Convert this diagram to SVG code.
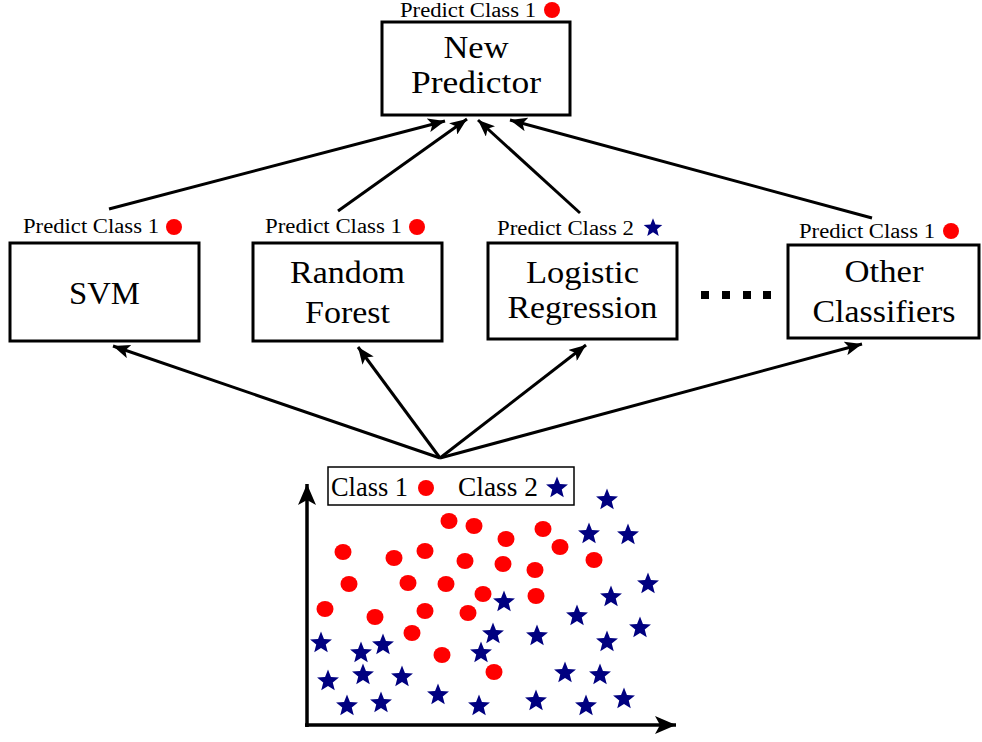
<svg xmlns="http://www.w3.org/2000/svg" xmlns:xlink="http://www.w3.org/1999/xlink" width="982" height="742" viewBox="0 0 982 742">
<defs>
<style>
.box{fill:#fff;stroke:#000;stroke-width:3}
.lbl{font-family:"Liberation Serif","Times New Roman",serif;font-size:20px;fill:#000}
.big{font-family:"Liberation Serif","Times New Roman",serif;font-size:32px;fill:#000;text-anchor:middle}
.leg{font-family:"Liberation Serif","Times New Roman",serif;font-size:27px;fill:#000}
.edge{stroke:#000;stroke-width:3;fill:none;marker-end:url(#ah)}
.axis{stroke:#000;stroke-width:3.5;fill:none;marker-end:url(#axh)}
.c1{fill:#ff0000}
.c2{fill:#000080}
</style>
<marker id="ah" markerUnits="userSpaceOnUse" markerWidth="18" markerHeight="14" refX="17" refY="7" orient="auto">
<path d="M0,0 L17,7 L0,14 L4,7 Z" fill="#000"/>
</marker>
<marker id="axh" markerUnits="userSpaceOnUse" markerWidth="22" markerHeight="18" refX="21" refY="9" orient="auto">
<path d="M0,0 L21,9 L0,18 L5,9 Z" fill="#000"/>
</marker>
<path id="star" d="M0,-11.5 L2.94,-4.05 L10.94,-3.55 L4.76,1.55 L6.76,9.3 L0,5 L-6.76,9.3 L-4.76,1.55 L-10.94,-3.55 L-2.94,-4.05 Z"/>
</defs>
<rect width="982" height="742" fill="#fff"/>

<g id="connectors">
<line class="edge" x1="109" y1="209" x2="445" y2="121"/>
<line class="edge" x1="338" y1="211" x2="467" y2="119"/>
<line class="edge" x1="580" y1="213" x2="478" y2="120"/>
<line class="edge" x1="872" y1="218" x2="510" y2="120"/>
<line class="edge" x1="440" y1="458" x2="113" y2="346"/>
<line class="edge" x1="440" y1="458" x2="358" y2="347"/>
<line class="edge" x1="440" y1="458" x2="586" y2="345"/>
<line class="edge" x1="440" y1="458" x2="862" y2="344"/>
</g>

<g id="new-predictor">
<text class="lbl" x="400" y="17" textLength="136" lengthAdjust="spacingAndGlyphs">Predict Class 1</text>
<circle class="c1" cx="552" cy="10" r="8"/>
<rect class="box" x="382" y="22" width="188" height="93"/>
<text class="big" x="476" y="58" textLength="65" lengthAdjust="spacingAndGlyphs">New</text>
<text class="big" x="476" y="93" textLength="130" lengthAdjust="spacingAndGlyphs">Predictor</text>
</g>

<g id="svm">
<text class="lbl" x="23" y="233" textLength="136" lengthAdjust="spacingAndGlyphs">Predict Class 1</text>
<circle class="c1" cx="174" cy="227" r="8"/>
<rect class="box" x="10" y="243" width="189" height="98"/>
<text class="big" x="104.5" y="304" textLength="71" lengthAdjust="spacingAndGlyphs">SVM</text>
</g>

<g id="random-forest">
<text class="lbl" x="265" y="233" textLength="137" lengthAdjust="spacingAndGlyphs">Predict Class 1</text>
<circle class="c1" cx="417" cy="227" r="8"/>
<rect class="box" x="253" y="243" width="189" height="98"/>
<text class="big" x="347.5" y="283" textLength="115" lengthAdjust="spacingAndGlyphs">Random</text>
<text class="big" x="347.5" y="323" textLength="85" lengthAdjust="spacingAndGlyphs">Forest</text>
</g>

<g id="logistic-regression">
<text class="lbl" x="497" y="235" textLength="137" lengthAdjust="spacingAndGlyphs">Predict Class 2</text>
<use xlink:href="#star" href="#star" class="c2" transform="translate(653,228) scale(0.85)"/>
<rect class="box" x="488" y="243" width="189" height="96"/>
<text class="big" x="582.5" y="283" textLength="113" lengthAdjust="spacingAndGlyphs">Logistic</text>
<text class="big" x="582.5" y="318" textLength="150" lengthAdjust="spacingAndGlyphs">Regression</text>
</g>

<g id="ellipsis">
<rect x="701" y="291" width="8" height="8" fill="#000"/>
<rect x="722" y="291" width="8" height="8" fill="#000"/>
<rect x="743" y="291" width="8" height="8" fill="#000"/>
<rect x="763" y="291" width="8" height="8" fill="#000"/>
</g>

<g id="other-classifiers">
<text class="lbl" x="799" y="238" textLength="136" lengthAdjust="spacingAndGlyphs">Predict Class 1</text>
<circle class="c1" cx="951" cy="231" r="8"/>
<rect class="box" x="788" y="245" width="191" height="93"/>
<text class="big" x="884" y="282" textLength="79" lengthAdjust="spacingAndGlyphs">Other</text>
<text class="big" x="884" y="322" textLength="143" lengthAdjust="spacingAndGlyphs">Classifiers</text>
</g>

<g id="dataset">
<line class="axis" x1="307" y1="727" x2="307" y2="484"/>
<line class="axis" x1="305" y1="725" x2="676" y2="725"/>
<rect x="328" y="467" width="246" height="38" fill="#fff" stroke="#000" stroke-width="1.5"/>
<text class="leg" x="331" y="496" textLength="77" lengthAdjust="spacingAndGlyphs">Class 1</text>
<circle class="c1" cx="426" cy="488" r="8"/>
<text class="leg" x="458" y="496" textLength="80" lengthAdjust="spacingAndGlyphs">Class 2</text>
<use xlink:href="#star" href="#star" class="c2" transform="translate(557,488)"/>

<g class="c1">
<ellipse cx="449" cy="521" rx="8.5" ry="8"/>
<ellipse cx="474" cy="526" rx="8.5" ry="8"/>
<ellipse cx="506" cy="539" rx="8.5" ry="8"/>
<ellipse cx="543" cy="529" rx="8.5" ry="8"/>
<ellipse cx="560" cy="547" rx="8.5" ry="8"/>
<ellipse cx="594" cy="560" rx="8.5" ry="8"/>
<ellipse cx="343" cy="552" rx="8.5" ry="8"/>
<ellipse cx="394" cy="558" rx="8.5" ry="8"/>
<ellipse cx="425" cy="551" rx="8.5" ry="8"/>
<ellipse cx="465" cy="561" rx="8.5" ry="8"/>
<ellipse cx="503" cy="564" rx="8.5" ry="8"/>
<ellipse cx="535" cy="570" rx="8.5" ry="8"/>
<ellipse cx="349" cy="584" rx="8.5" ry="8"/>
<ellipse cx="408" cy="583" rx="8.5" ry="8"/>
<ellipse cx="446" cy="584" rx="8.5" ry="8"/>
<ellipse cx="483" cy="594" rx="8.5" ry="8"/>
<ellipse cx="536" cy="596" rx="8.5" ry="8"/>
<ellipse cx="325" cy="609" rx="8.5" ry="8"/>
<ellipse cx="375" cy="617" rx="8.5" ry="8"/>
<ellipse cx="425" cy="611" rx="8.5" ry="8"/>
<ellipse cx="468" cy="613" rx="8.5" ry="8"/>
<ellipse cx="412" cy="633" rx="8.5" ry="8"/>
<ellipse cx="442" cy="655" rx="8.5" ry="8"/>
<ellipse cx="494" cy="672" rx="8.5" ry="8"/>
</g>

<g class="c2">
<use xlink:href="#star" href="#star" x="607" y="500"/>
<use xlink:href="#star" href="#star" x="589" y="534"/>
<use xlink:href="#star" href="#star" x="628" y="535"/>
<use xlink:href="#star" href="#star" x="648" y="584"/>
<use xlink:href="#star" href="#star" x="611" y="597"/>
<use xlink:href="#star" href="#star" x="577" y="616"/>
<use xlink:href="#star" href="#star" x="640" y="628"/>
<use xlink:href="#star" href="#star" x="607" y="642"/>
<use xlink:href="#star" href="#star" x="504" y="602"/>
<use xlink:href="#star" href="#star" x="493" y="634"/>
<use xlink:href="#star" href="#star" x="537" y="636"/>
<use xlink:href="#star" href="#star" x="481" y="653"/>
<use xlink:href="#star" href="#star" x="321" y="643"/>
<use xlink:href="#star" href="#star" x="361" y="653"/>
<use xlink:href="#star" href="#star" x="383" y="645"/>
<use xlink:href="#star" href="#star" x="328" y="681"/>
<use xlink:href="#star" href="#star" x="363" y="675"/>
<use xlink:href="#star" href="#star" x="402" y="677"/>
<use xlink:href="#star" href="#star" x="565" y="673"/>
<use xlink:href="#star" href="#star" x="600" y="675"/>
<use xlink:href="#star" href="#star" x="347" y="706"/>
<use xlink:href="#star" href="#star" x="381" y="703"/>
<use xlink:href="#star" href="#star" x="438" y="695"/>
<use xlink:href="#star" href="#star" x="479" y="706"/>
<use xlink:href="#star" href="#star" x="536" y="701"/>
<use xlink:href="#star" href="#star" x="586" y="706"/>
<use xlink:href="#star" href="#star" x="624" y="699"/>
</g>
</g>
</svg>
